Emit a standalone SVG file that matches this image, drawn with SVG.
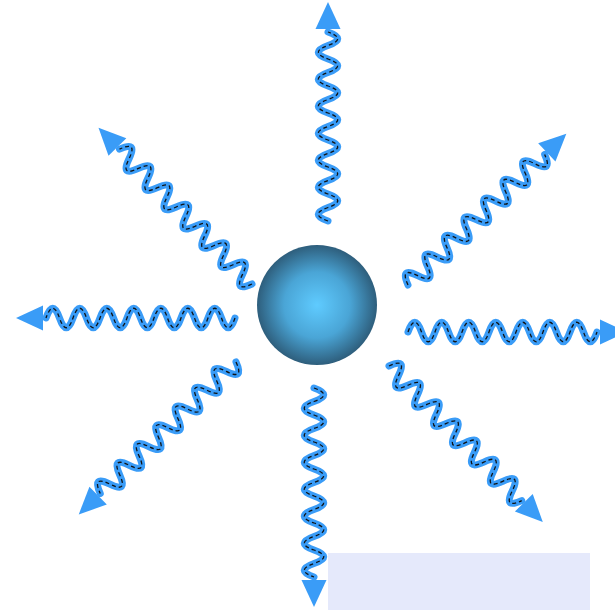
<svg xmlns="http://www.w3.org/2000/svg" xmlns:xlink="http://www.w3.org/1999/xlink" width="615" height="610" viewBox="0 0 615 610">
<style>
.wb{fill:none;stroke:#3a9cf7;stroke-width:7;stroke-linecap:round;stroke-linejoin:round}
.wd{fill:none;stroke:#111;stroke-width:1.3;stroke-dasharray:4 3}
.ah{fill:#3a9cf7}
</style>
<defs>
<radialGradient id="sg" cx="50%" cy="50%" r="50%">
<stop offset="0" stop-color="#5fcbff"/>
<stop offset="0.55" stop-color="#4aa5d6"/>
<stop offset="1" stop-color="#2e5e7c"/>
</radialGradient>
<path id="wp" d="M0,0 c4.5,-13 9,-13 13.5,0 s9,13 13.5,0 s9,-13 13.5,0 s9,13 13.5,0 s9,-13 13.5,0 s9,13 13.5,0 s9,-13 13.5,0 s9,13 13.5,0 s9,-13 13.5,0 s9,13 13.5,0 s9,-13 13.5,0 s9,13 13.5,0 s9,-13 13.5,0 s9,13 13.5,0"/>
<g id="wave">
<use xlink:href="#wp" href="#wp" class="wb"/>
<use xlink:href="#wp" href="#wp" class="wd"/>
<polygon class="ah" points="192,-12.5 219,0 192,12.5"/>
</g>
</defs>
<rect id="panel" x="328" y="553" width="262" height="57" fill="#e5e9fb"/>
<g id="connectors">
<use xlink:href="#wave" href="#wave" transform="translate(408,332)"/>
<use xlink:href="#wave" href="#wave" transform="translate(235,318) rotate(180)"/>
<use xlink:href="#wave" href="#wave" transform="translate(328,221) rotate(-90)"/>
<use xlink:href="#wave" href="#wave" transform="translate(314,388) rotate(90)"/>
<use xlink:href="#wave" href="#wave" transform="translate(252,284) rotate(-134.5)"/>
<use xlink:href="#wave" href="#wave" transform="translate(408,285) rotate(-43.7)"/>
<use xlink:href="#wave" href="#wave" transform="translate(236,362) rotate(135.9)"/>
<use xlink:href="#wave" href="#wave" transform="translate(389,366) rotate(45.4)"/>
</g>
<g id="sphere">
<circle cx="317" cy="305" r="60" fill="url(#sg)"/>
</g>
</svg>
